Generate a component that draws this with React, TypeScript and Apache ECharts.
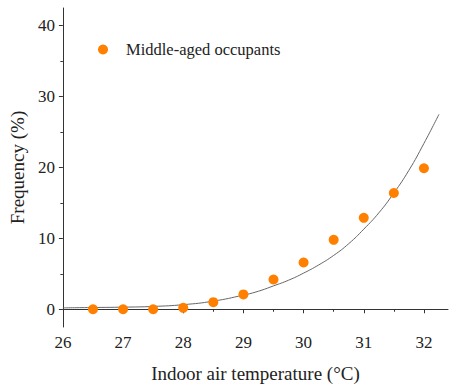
import React, { useEffect, useRef } from "react";
import * as echarts from "echarts";

const tempX = [26.5, 27, 27.5, 28, 28.5, 29, 29.5, 30, 30.5, 31, 31.5, 32];
const freqY = [0, 0, 0, 0.2, 1.0, 2.1, 4.2, 6.6, 9.8, 12.9, 16.4, 19.9];

const fitX = [26, 26.5, 27, 27.5, 28, 28.5, 29, 29.25, 29.5, 29.75, 30, 30.25, 30.5, 30.75, 31, 31.25, 31.5, 31.75, 32, 32.25];
const fitY = [0.2, 0.25, 0.3, 0.4, 0.65, 1.15, 2.0, 2.55, 3.3, 4.1, 5.1, 6.25, 7.6, 9.25, 11.3, 13.6, 16.4, 19.6, 23.4, 27.5];

const xMajor = [26, 27, 28, 29, 30, 31, 32];
const xMinor = [26.5, 27.5, 28.5, 29.5, 30.5, 31.5];
const yMajor = [0, 10, 20, 30, 40];
const yMinor = [5, 15, 25, 35];

const FONT = "'Liberation Serif', 'Times New Roman', serif";
const AXIS = "#333";

export default function App() {
  const ref = useRef<HTMLDivElement>(null);
  useEffect(() => {
    const chart = echarts.init(ref.current!, null, { renderer: "svg" });
    chart.setOption({
      animation: false,
      backgroundColor: "#fff",
      grid: { left: 62, top: 8, right: 1, bottom: 65, containLabel: false },
      legend: {
        left: 98,
        top: 41,
        itemWidth: 36,
        itemHeight: 10,
        itemGap: 5,
        data: [{ name: "Middle-aged occupants", icon: "circle" }],
        textStyle: { fontFamily: FONT, fontSize: 16.5, color: "#222", padding: [0, 0, 0, 0] },
        padding: 0,
      },
      xAxis: [
        {
          type: "value",
          min: 26,
          max: 32.4,
          splitLine: { show: false },
          axisLine: { show: true, lineStyle: { color: AXIS, width: 1 } },
          axisTick: { show: true, inside: false, length: 4, customValues: xMajor, lineStyle: { color: AXIS } },
          axisLabel: { customValues: xMajor, fontFamily: FONT, fontSize: 17, color: "#222", margin: 7 },
          name: "Indoor air temperature (°C)",
          nameLocation: "middle",
          nameGap: 37,
          nameTextStyle: { fontFamily: FONT, fontSize: 19, color: "#222" },
        },
        {
          type: "value",
          min: 26,
          max: 32.4,
          position: "bottom",
          splitLine: { show: false },
          axisLine: { show: false },
          axisTick: { show: true, length: 2.5, customValues: xMinor, lineStyle: { color: AXIS } },
          axisLabel: { show: false },
        },
      ],
      yAxis: [
        {
          type: "value",
          min: -2.5,
          max: 42.5,
          splitLine: { show: false },
          axisLine: { show: true, lineStyle: { color: AXIS, width: 1 } },
          axisTick: { show: true, length: 4, customValues: yMajor, lineStyle: { color: AXIS } },
          axisLabel: { customValues: yMajor, fontFamily: FONT, fontSize: 17, color: "#222", margin: 8 },
          name: "Frequency (%)",
          nameLocation: "middle",
          nameGap: 29,
          nameTextStyle: { fontFamily: FONT, fontSize: 19, color: "#222" },
        },
        {
          type: "value",
          min: -2.5,
          max: 42.5,
          position: "left",
          splitLine: { show: false },
          axisLine: { show: false },
          axisTick: { show: true, length: 2.5, customValues: yMinor, lineStyle: { color: AXIS } },
          axisLabel: { show: false },
        },
      ],
      series: [
        {
          type: "line",
          name: "fit",
          data: fitX.map((x, i) => [x, fitY[i]]),
          smooth: true,
          showSymbol: false,
          symbol: "none",
          lineStyle: { color: "#666", width: 1 },
          z: 1,
        },
        {
          type: "scatter",
          name: "Middle-aged occupants",
          data: tempX.map((x, i) => [x, freqY[i]]),
          symbol: "circle",
          symbolSize: 10,
          itemStyle: { color: "#FF8000", opacity: 1 },
          z: 2,
        },
      ],
    });
    return () => chart.dispose();
  }, []);
  return <div ref={ref} style={{ width: 449, height: 392, position: "absolute", left: 0, top: 0 }} />;
}
